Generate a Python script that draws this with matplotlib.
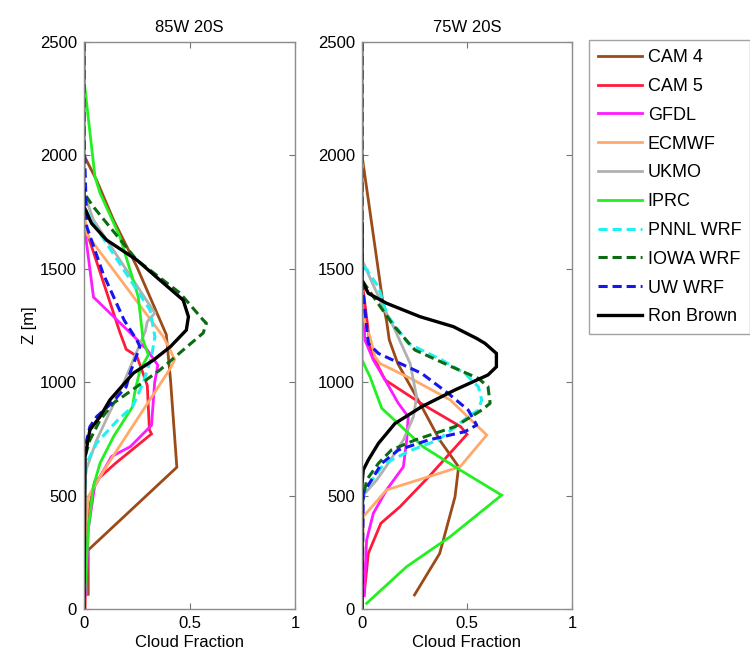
import matplotlib
matplotlib.use("Agg")
import matplotlib.pyplot as plt

plt.rcParams['font.family'] = ['Liberation Sans', 'DejaVu Sans']

# ---------------- data : 85W 20S ----------------
cam4_85_cf = [0, 0, 0.06, 0.14, 0.25, 0.39, 0.41, 0.44, 0.02, 0.02]
cam4_85_z = [2500, 2000, 1890, 1715, 1510, 1210, 1010, 625, 260, 65]

cam5_85_cf = [0, 0, 0.17, 0.20, 0.25, 0.27, 0.30, 0.31, 0.32, 0.15, 0.05, 0.02, 0.01, 0.005]
cam5_85_z = [2500, 1700, 1220, 1145, 1115, 1065, 985, 790, 772, 643, 560, 420, 250, 0]

gfdl_85_cf = [0, 0, 0.045, 0.23, 0.30, 0.35, 0.335, 0.32, 0.22, 0.13, 0.05, 0.02, 0.013, 0.013]
gfdl_85_z = [2500, 1700, 1375, 1208, 1142, 1075, 1000, 810, 716, 672, 540, 350, 150, 65]

ecmwf_85_cf = [0, 0, 0.015, 0.376, 0.40, 0.43, 0.41, 0.10, 0.02, 0.005, 0]
ecmwf_85_z = [2500, 1760, 1650, 1200, 1157, 1100, 1062, 620, 495, 300, 0]

ukmo_85_cf = [0, 0, 0.045, 0.336, 0.30, 0.29, 0.22, 0.18, 0.12, 0.06, 0.005, 0]
ukmo_85_z = [2500, 1834, 1715, 1305, 1267, 1223, 1068, 980, 864, 745, 600, 0]

iprc_85_cf = [0, 0, 0.052, 0.076, 0.17, 0.257, 0.28, 0.305, 0.265, 0.24, 0.23, 0.14, 0.076, 0.044, 0.02, 0]
iprc_85_z = [2500, 2332, 1906, 1834, 1642, 1377, 1186, 1120, 1054, 952, 892, 760, 643, 539, 348, 0]

pnnl_85_cf = [0, 0, 0.045, 0.313, 0.336, 0.32, 0.28, 0.23, 0.16, 0.06, 0.013, 0, 0]
pnnl_85_z = [2500, 1774, 1700, 1318, 1200, 1112, 996, 892, 833, 732, 643, 500, 0]

iowa_85_cf = [0, 0, 0.044, 0.25, 0.455, 0.565, 0.58, 0.565, 0.47, 0.36, 0.25, 0.14, 0.076, 0.028, 0.005, 0, 0]
iowa_85_z = [2500, 1834, 1774, 1539, 1393, 1274, 1260, 1217, 1142, 1054, 980, 908, 833, 745, 672, 600, 0]

uw_85_cf = [0, 0, 0.013, 0.09, 0.19, 0.25, 0.265, 0.218, 0.20, 0.13, 0.06, 0.028, 0.005, 0, 0]
uw_85_z = [2500, 2098, 1686, 1480, 1274, 1186, 1157, 1040, 980, 907, 848, 804, 716, 650, 0]

rb_85_cf = [0, 0, 0.036, 0.107, 0.25, 0.36, 0.47, 0.495, 0.485, 0.41, 0.33, 0.234, 0.123, 0.076, 0.028, 0.005, 0]
rb_85_z = [1850, 1774, 1700, 1627, 1539, 1450, 1362, 1289, 1230, 1157, 1098, 1040, 922, 848, 790, 672, 0]

# ---------------- data : 75W 20S ----------------
cam4_75_cf = [0, 0, 0.10, 0.117, 0.13, 0.17, 0.276, 0.37, 0.46, 0.443, 0.37, 0.25]
cam4_75_z = [2500, 2000, 1348, 1270, 1186, 1083, 907, 745, 627, 495, 245, 62]

cam5_75_cf = [0, 0, 0.02, 0.04, 0.078, 0.11, 0.28, 0.47, 0.50, 0.32, 0.18, 0.09, 0.03, 0.01]
cam5_75_z = [2500, 1450, 1300, 1150, 1068, 1010, 907, 804, 770, 585, 450, 378, 245, 60]

gfdl_75_cf = [0, 0, 0.014, 0.054, 0.11, 0.173, 0.22, 0.213, 0.197, 0.117, 0.054, 0.022, 0.01]
gfdl_75_z = [2500, 1400, 1186, 1098, 1010, 907, 848, 745, 627, 525, 422, 304, 60]

ecmwf_75_cf = [0, 0, 0.038, 0.062, 0.085, 0.245, 0.42, 0.594, 0.467, 0.117, 0.006, 0]
ecmwf_75_z = [2500, 1300, 1200, 1112, 1083, 1010, 922, 767, 627, 525, 407, 0]

ukmo_75_cf = [0, 0, 0.10, 0.15, 0.229, 0.26, 0.245, 0.197, 0.125, 0.07, 0.005, 0]
ukmo_75_z = [2500, 1539, 1333, 1245, 1083, 936, 848, 745, 642, 569, 500, 0]

iprc_75_cf = [0, 0, 0.038, 0.094, 0.29, 0.467, 0.665, 0.42, 0.213, 0.022]
iprc_75_z = [2500, 1098, 1024, 885, 716, 613, 502, 319, 187, 25]

pnnl_75_cf = [0, 0, 0.078, 0.12, 0.22, 0.38, 0.49, 0.554, 0.57, 0.554, 0.506, 0.363, 0.237, 0.14, 0.094, 0.014, 0, 0]
pnnl_75_z = [2500, 1525, 1421, 1296, 1171, 1098, 1039, 980, 922, 877, 848, 745, 701, 657, 627, 525, 450, 0]

iowa_75_cf = [0, 0, 0.054, 0.15, 0.252, 0.427, 0.554, 0.60, 0.61, 0.57, 0.443, 0.252, 0.14, 0.078, 0.022, 0, 0]
iowa_75_z = [2500, 1450, 1377, 1250, 1142, 1068, 1017, 980, 907, 877, 804, 745, 701, 642, 569, 460, 0]

uw_75_cf = [0, 0, 0.03, 0.078, 0.284, 0.41, 0.506, 0.546, 0.49, 0.316, 0.173, 0.094, 0.006, 0]
uw_75_z = [2500, 1450, 1171, 1127, 1039, 951, 877, 811, 782, 745, 701, 642, 510, 0]

rb_75_cf = [0, 0, 0.03, 0.117, 0.276, 0.435, 0.546, 0.586, 0.64, 0.64, 0.60, 0.443, 0.284, 0.157, 0.078, 0.03, 0.006, 0, 0]
rb_75_z = [1700, 1450, 1392, 1348, 1289, 1245, 1193, 1171, 1127, 1068, 1032, 966, 892, 818, 730, 657, 613, 550, 0]

names = ['CAM 4', 'CAM 5', 'GFDL', 'ECMWF', 'UKMO', 'IPRC',
         'PNNL WRF', 'IOWA WRF', 'UW WRF', 'Ron Brown']
panel_titles = ['85W 20S', '75W 20S']
x_ticks = [0, 0.5, 1]
x_ticklabels = ['0', '0.5', '1']
z_ticks = [0, 500, 1000, 1500, 2000, 2500]

colors = ['#9C4A17', '#FF1A3C', '#FF1AFF', '#FFAA6A', '#B0B0B0', '#22F022',
          '#22F0F0', '#0B6A12', '#1515F0', '#000000']
dash = (0, (3.0, 1.6))
styles = ['-', '-', '-', '-', '-', '-', dash, dash, dash, '-']
widths = [2.0, 2.0, 2.0, 2.0, 2.0, 2.0, 2.2, 2.2, 2.2, 2.4]

series_85 = [(cam4_85_cf, cam4_85_z), (cam5_85_cf, cam5_85_z), (gfdl_85_cf, gfdl_85_z),
             (ecmwf_85_cf, ecmwf_85_z), (ukmo_85_cf, ukmo_85_z), (iprc_85_cf, iprc_85_z),
             (pnnl_85_cf, pnnl_85_z), (iowa_85_cf, iowa_85_z), (uw_85_cf, uw_85_z),
             (rb_85_cf, rb_85_z)]
series_75 = [(cam4_75_cf, cam4_75_z), (cam5_75_cf, cam5_75_z), (gfdl_75_cf, gfdl_75_z),
             (ecmwf_75_cf, ecmwf_75_z), (ukmo_75_cf, ukmo_75_z), (iprc_75_cf, iprc_75_z),
             (pnnl_75_cf, pnnl_75_z), (iowa_75_cf, iowa_75_z), (uw_75_cf, uw_75_z),
             (rb_75_cf, rb_75_z)]

fig = plt.figure(figsize=(7.5, 6.7), dpi=100)
W, H = 750, 670
ax1 = fig.add_axes([84 / W, 1 - 609 / H, 211 / W, 567 / H])
ax2 = fig.add_axes([362 / W, 1 - 609 / H, 210 / W, 567 / H])

fs = 12
handles = []
for ax, series, title in [(ax1, series_85, panel_titles[0]), (ax2, series_75, panel_titles[1])]:
    hs = []
    for (cf, z), c, ls, lw, nm in zip(series, colors, styles, widths, names):
        h, = ax.plot(cf, z, color=c, linestyle=ls, linewidth=lw, label=nm,
                     solid_joinstyle='miter', clip_on=True)
        hs.append(h)
    handles = hs
    ax.set_xlim(0, 1)
    ax.set_ylim(0, 2500)
    ax.set_xticks(x_ticks)
    ax.set_xticklabels(x_ticklabels)
    ax.set_yticks(z_ticks)
    ax.tick_params(direction='in', top=True, right=True, length=4, width=0.8,
                   color='0.45', labelsize=fs, pad=5)
    for sp in ax.spines.values():
        sp.set_color('0.55')
        sp.set_linewidth(1.0)
    ax.set_title(title, fontsize=fs, pad=7)
    ax.set_xlabel('Cloud Fraction', fontsize=fs, labelpad=3)

ax1.set_ylabel('Z [m]', fontsize=fs, labelpad=2)

leg = fig.legend(handles, names, loc='upper left',
                 bbox_to_anchor=(589 / W, 1 - 40 / H), bbox_transform=fig.transFigure,
                 fontsize=13, frameon=True, fancybox=False, edgecolor='0.55',
                 handlelength=2.45, handletextpad=0.3, labelspacing=0.655,
                 borderpad=0.5, borderaxespad=0)
leg.get_frame().set_linewidth(1.0)

fig.savefig('out.png', dpi=100)
